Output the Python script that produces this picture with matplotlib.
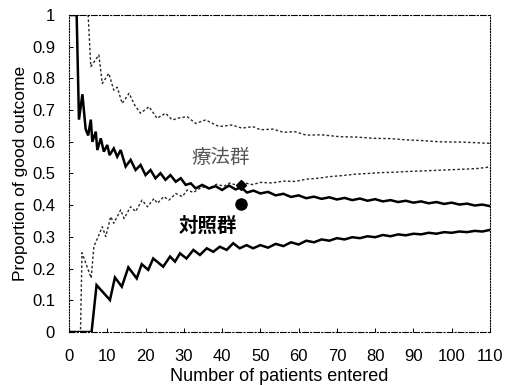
import matplotlib
matplotlib.use("Agg")
import matplotlib.pyplot as plt

plt.rcParams['font.family'] = ['Liberation Sans', 'Noto Sans CJK JP', 'DejaVu Sans']

# Control group (対照群) upper bound
ctrl_up_x = [0, 2.0, 2.6, 3.5, 4.35, 5.0, 5.7, 6.1, 7.0, 7.4, 8.3, 9.1, 10.0, 10.6, 11.7, 12.6,
             13.5, 14.8, 16.1, 17.4, 18.7, 20.0, 21.3, 22.6, 23.9, 25.2, 26.5, 27.9, 29.2, 30.5,
             31.8, 33.1, 34.8, 36.6, 38.3, 40.0, 41.8, 43.5, 45.0, 46.5, 48.2, 50, 52, 54, 56, 58,
             60, 62, 64, 66, 68, 70, 72, 74, 76, 78, 80, 82, 84, 86, 88, 90, 92, 94, 96, 98, 100,
             102, 104, 106, 108, 110]
ctrl_up_y = [1.0, 1.0, 0.67, 0.75, 0.64, 0.62, 0.67, 0.60, 0.632, 0.574, 0.611, 0.569, 0.590, 0.558,
             0.579, 0.553, 0.574, 0.522, 0.543, 0.511, 0.527, 0.495, 0.511, 0.485, 0.501, 0.480,
             0.495, 0.474, 0.485, 0.464, 0.469, 0.453, 0.464, 0.453, 0.460, 0.448, 0.462, 0.450,
             0.456, 0.440, 0.446, 0.437, 0.442, 0.431, 0.436, 0.426, 0.431, 0.422, 0.427, 0.420,
             0.425, 0.418, 0.423, 0.416, 0.421, 0.414, 0.419, 0.412, 0.416, 0.410, 0.414, 0.408,
             0.412, 0.406, 0.410, 0.404, 0.408, 0.402, 0.405, 0.399, 0.402, 0.397]

# Control group (対照群) lower bound
ctrl_lo_x = [0, 5.9, 7.2, 10.7, 12.0, 13.8, 15.5, 17.7, 19.0, 20.7, 22.0, 24.6, 26.4, 27.7, 29.0,
             30.7, 32.5, 34.2, 36.0, 37.7, 39.4, 41.2, 42.9, 44.6, 46.4, 48.1, 50, 52, 54, 56, 58,
             60, 62, 64, 66, 68, 70, 72, 74, 76, 78, 80, 82, 84, 86, 88, 90, 92, 94, 96, 98, 100,
             102, 104, 106, 108, 110]
ctrl_lo_y = [0, 0, 0.148, 0.101, 0.172, 0.143, 0.204, 0.169, 0.214, 0.196, 0.232, 0.206, 0.238,
             0.222, 0.248, 0.232, 0.259, 0.243, 0.264, 0.253, 0.269, 0.259, 0.280, 0.264, 0.274,
             0.264, 0.274, 0.266, 0.278, 0.271, 0.283, 0.276, 0.288, 0.283, 0.292, 0.288, 0.296,
             0.292, 0.299, 0.296, 0.302, 0.299, 0.306, 0.302, 0.308, 0.305, 0.310, 0.308, 0.313,
             0.310, 0.315, 0.313, 0.317, 0.315, 0.319, 0.317, 0.322]

# Therapy group (療法群) upper bound
ther_up_x = [0, 5.0, 5.7, 7.8, 8.7, 10.4, 11.7, 12.6, 13.9, 15.7, 17.2, 18.7, 20.9, 23.0, 25.2,
             27.0, 29.0, 30.9, 33.1, 35.7, 39.2, 42.6, 45.2, 48, 50, 53.3, 56, 59, 62, 66, 70.8,
             75, 79.5, 84, 88.2, 92, 96.9, 103, 110]
ther_up_y = [1.0, 1.0, 0.837, 0.874, 0.784, 0.816, 0.763, 0.772, 0.721, 0.753, 0.715, 0.690, 0.711,
             0.674, 0.690, 0.669, 0.676, 0.679, 0.658, 0.669, 0.648, 0.653, 0.643, 0.648, 0.638,
             0.640, 0.630, 0.632, 0.621, 0.622, 0.616, 0.615, 0.611, 0.610, 0.606, 0.604, 0.600,
             0.599, 0.595]

# Therapy group (療法群) lower bound
ther_lo_x = [0, 3.0, 3.4, 5.8, 6.5, 7.6, 8.7, 9.6, 10.9, 11.7, 13.5, 14.4, 16.1, 17.4, 19.1, 20.5,
             22.2, 23.1, 24.8, 26.1, 27.9, 29.6, 30.9, 32.5, 34.8, 36.5, 38.5, 40.5, 42, 44, 46,
             48, 50, 53, 56, 59, 62, 65, 68, 71, 75, 78, 82, 85, 88, 92, 96, 100, 104, 107, 110]
ther_lo_y = [0, 0, 0.25, 0.17, 0.27, 0.30, 0.332, 0.301, 0.364, 0.343, 0.385, 0.358, 0.395, 0.380,
             0.416, 0.395, 0.421, 0.406, 0.427, 0.416, 0.437, 0.427, 0.448, 0.440, 0.458, 0.452,
             0.466, 0.460, 0.470, 0.462, 0.470, 0.465, 0.472, 0.470, 0.476, 0.475, 0.482, 0.485,
             0.490, 0.493, 0.498, 0.500, 0.503, 0.504, 0.506, 0.508, 0.510, 0.512, 0.514, 0.516,
             0.521]

# Point estimates at 45 patients
est_x = [45, 45]
est_y = [0.464, 0.405]  # therapy (diamond), control (circle)

group_labels = ['療法群', '対照群']
xticks = list(range(0, 111, 10))
yticks = [0, 0.1, 0.2, 0.3, 0.4, 0.5, 0.6, 0.7, 0.8, 0.9, 1.0]
ytick_labels = ['0', '0.1', '0.2', '0.3', '0.4', '0.5', '0.6', '0.7', '0.8', '0.9', '1']

fig = plt.figure(figsize=(5.08, 3.85), dpi=100)
ax = fig.add_axes([69/508, 1 - 332/385, (490 - 69)/508, (332 - 15)/385])

dot_style = dict(color='#262626', lw=1.0, linestyle=(0, (1.8, 1.6)))
ax.plot(ther_up_x, ther_up_y, **dot_style)
ax.plot(ther_lo_x, ther_lo_y, **dot_style)
ax.plot(ctrl_up_x, ctrl_up_y, color='black', lw=1.8, solid_joinstyle='miter')
ax.plot(ctrl_lo_x, ctrl_lo_y, color='black', lw=1.8, solid_joinstyle='miter')

ax.plot(est_x[0], est_y[0], marker='D', color='black', markersize=5.5, zorder=5)
ax.plot(est_x[1], est_y[1], marker='o', color='black', markersize=8, zorder=5)

ax.text(39.7, 0.55, group_labels[0], fontsize=14, color='#555555',
        family=['Noto Sans CJK JP'], ha='center', va='center')
ax.text(36.2, 0.333, group_labels[1], fontsize=14, color='black', fontweight='bold',
        family=['Noto Sans CJK JP'], ha='center', va='center')

ax.set_xlim(0, 110)
ax.set_ylim(0, 1)
ax.set_xticks(xticks)
ax.set_yticks(yticks)
ax.set_yticklabels(ytick_labels)
ax.tick_params(axis='both', direction='in', length=3, width=0.7, labelsize=12, colors='black')
ax.tick_params(axis='x', pad=12)
ax.tick_params(axis='y', pad=10)

for side in ['left', 'right']:
    ax.spines[side].set_linestyle((0, (1, 1.5)))
    ax.spines[side].set_linewidth(0.8)
for side in ['top', 'bottom']:
    ax.spines[side].set_linestyle((0, (5, 2, 1, 2)))
    ax.spines[side].set_linewidth(0.8)

ax.set_xlabel('Number of patients entered', fontsize=13, labelpad=3)
ax.set_ylabel('Proportion of good outcome', fontsize=12.5, labelpad=3)

fig.savefig('out.png', dpi=100)
